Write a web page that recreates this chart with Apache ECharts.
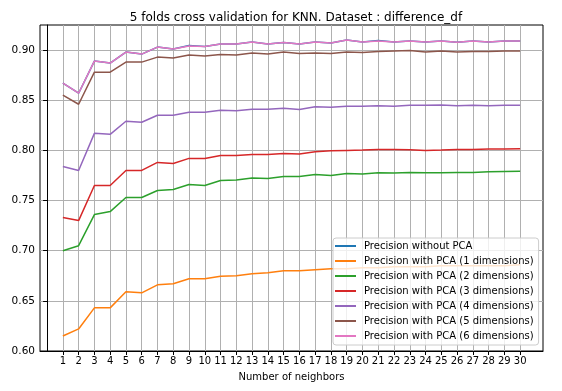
<!DOCTYPE html>
<html>
<head>
<meta charset="utf-8">
<script src="https://cdn.jsdelivr.net/npm/echarts@6/dist/echarts.min.js"></script>
<style>html,body{margin:0;padding:0;background:#fff}#c{width:562px;height:391px}</style>
</head>
<body>
<div id="c"></div>
<script>
const neighbors = [1,2,3,4,5,6,7,8,9,10,11,12,13,14,15,16,17,18,19,20,21,22,23,24,25,26,27,28,29,30];
const yTicks = [0.60,0.65,0.70,0.75,0.80,0.85,0.90];
const seriesNames = [
  "Precision without PCA",
  "Precision with PCA (1 dimensions)",
  "Precision with PCA (2 dimensions)",
  "Precision with PCA (3 dimensions)",
  "Precision with PCA (4 dimensions)",
  "Precision with PCA (5 dimensions)",
  "Precision with PCA (6 dimensions)"
];
const noPCA = [0.867,0.857,0.889,0.887,0.898,0.896,0.903,0.901,0.9045,0.9035,0.906,0.906,0.908,0.906,0.9075,0.906,0.908,0.907,0.910,0.908,0.9095,0.908,0.909,0.908,0.909,0.9078,0.909,0.908,0.909,0.909];
const pca1 = [0.615,0.622,0.643,0.643,0.659,0.658,0.666,0.667,0.672,0.672,0.6746,0.675,0.677,0.678,0.680,0.680,0.681,0.682,0.682,0.683,0.683,0.684,0.684,0.684,0.685,0.685,0.685,0.685,0.685,0.686];
const pca2 = [0.700,0.705,0.736,0.739,0.753,0.753,0.760,0.761,0.766,0.765,0.770,0.7705,0.7725,0.772,0.774,0.774,0.776,0.775,0.777,0.7765,0.7778,0.7775,0.778,0.7778,0.7778,0.778,0.778,0.7786,0.779,0.7792];
const pca3 = [0.733,0.730,0.765,0.765,0.780,0.780,0.788,0.787,0.792,0.792,0.795,0.795,0.796,0.796,0.797,0.7965,0.7986,0.7996,0.800,0.8003,0.801,0.801,0.8007,0.800,0.8003,0.801,0.801,0.8013,0.8013,0.8016];
const pca4 = [0.784,0.780,0.817,0.816,0.829,0.828,0.835,0.835,0.838,0.838,0.840,0.8395,0.841,0.841,0.842,0.8408,0.8436,0.843,0.844,0.844,0.8446,0.844,0.845,0.845,0.8452,0.8446,0.845,0.8446,0.845,0.845];
const pca5 = [0.855,0.846,0.878,0.878,0.888,0.888,0.893,0.892,0.895,0.894,0.8956,0.895,0.897,0.896,0.898,0.8966,0.897,0.8966,0.898,0.8975,0.8985,0.899,0.8995,0.898,0.899,0.898,0.8985,0.8985,0.899,0.899];
const pca6 = [0.867,0.857,0.889,0.887,0.898,0.896,0.903,0.901,0.904,0.9035,0.906,0.906,0.908,0.906,0.9075,0.906,0.908,0.907,0.910,0.908,0.909,0.908,0.909,0.908,0.909,0.9078,0.909,0.908,0.909,0.909];
const allValues = [noPCA, pca1, pca2, pca3, pca4, pca5, pca6];
const colors = ['#1f77b4','#ff7f0e','#2ca02c','#d62728','#9467bd','#8c564b','#e377c2'];

const font = 'DejaVu Sans';
const chart = echarts.init(document.getElementById('c'), null, {renderer:'canvas'});
chart.setOption({
  animation: false,
  backgroundColor: '#fff',
  title: {
    text: '5 folds cross validation for KNN. Dataset : difference_df',
    left: 291, textAlign: 'center', top: 7,
    textStyle: {fontFamily: font, fontSize: 12, fontWeight: 'normal', color: '#000'}
  },
  grid: {left: 40, right: 19, top: 25, bottom: 40, show: true, borderColor: '#000', borderWidth: 1, backgroundColor: 'transparent'},
  xAxis: {
    type: 'value', min: -0.45, max: 31.45,
    name: 'Number of neighbors', nameLocation: 'middle', nameGap: 21,
    nameTextStyle: {fontFamily: font, fontSize: 10, color: '#000'},
    axisLine: {show: true, lineStyle: {color: '#000', width: 1}},
    axisTick: {show: true, inside: false, length: 4, lineStyle: {color: '#000'}, customValues: neighbors},
    axisLabel: {fontFamily: font, fontSize: 10, color: '#000', margin: 5, customValues: neighbors},
    splitLine: {show: true, lineStyle: {color: '#b0b0b0', width: 1}}
  },
  yAxis: {
    type: 'value', min: 0.60, max: 0.925,
    axisLine: {show: true, lineStyle: {color: '#000', width: 1}},
    axisTick: {show: true, inside: false, length: 4, lineStyle: {color: '#000'}, customValues: yTicks},
    axisLabel: {fontFamily: font, fontSize: 10.5, color: '#000', margin: 5, customValues: yTicks, formatter: v => v.toFixed(2)},
    splitLine: {show: true, lineStyle: {color: '#b0b0b0', width: 1}}
  },
  legend: {
    orient: 'vertical', left: 333, top: 238,
    data: seriesNames.map(n => ({name: n, icon: 'rect'})),
    itemWidth: 21, itemHeight: 2, itemGap: 3,
    padding: [2, 5, 3, 2],
    backgroundColor: 'rgba(255,255,255,0.8)', borderColor: '#cccccc', borderWidth: 1, borderRadius: 3,
    textStyle: {fontFamily: font, fontSize: 10, color: '#000', lineHeight: 12, padding: [0,0,0,3]},
    z: 10
  },
  series: seriesNames.map((n, i) => ({
    name: n, type: 'line', showSymbol: false, symbol: 'none',
    data: neighbors.map((k, j) => [k, allValues[i][j]]),
    lineStyle: {color: colors[i], width: 1.5},
    itemStyle: {color: colors[i]},
    z: 2 + i
  }))
});
</script>
</body>
</html>
